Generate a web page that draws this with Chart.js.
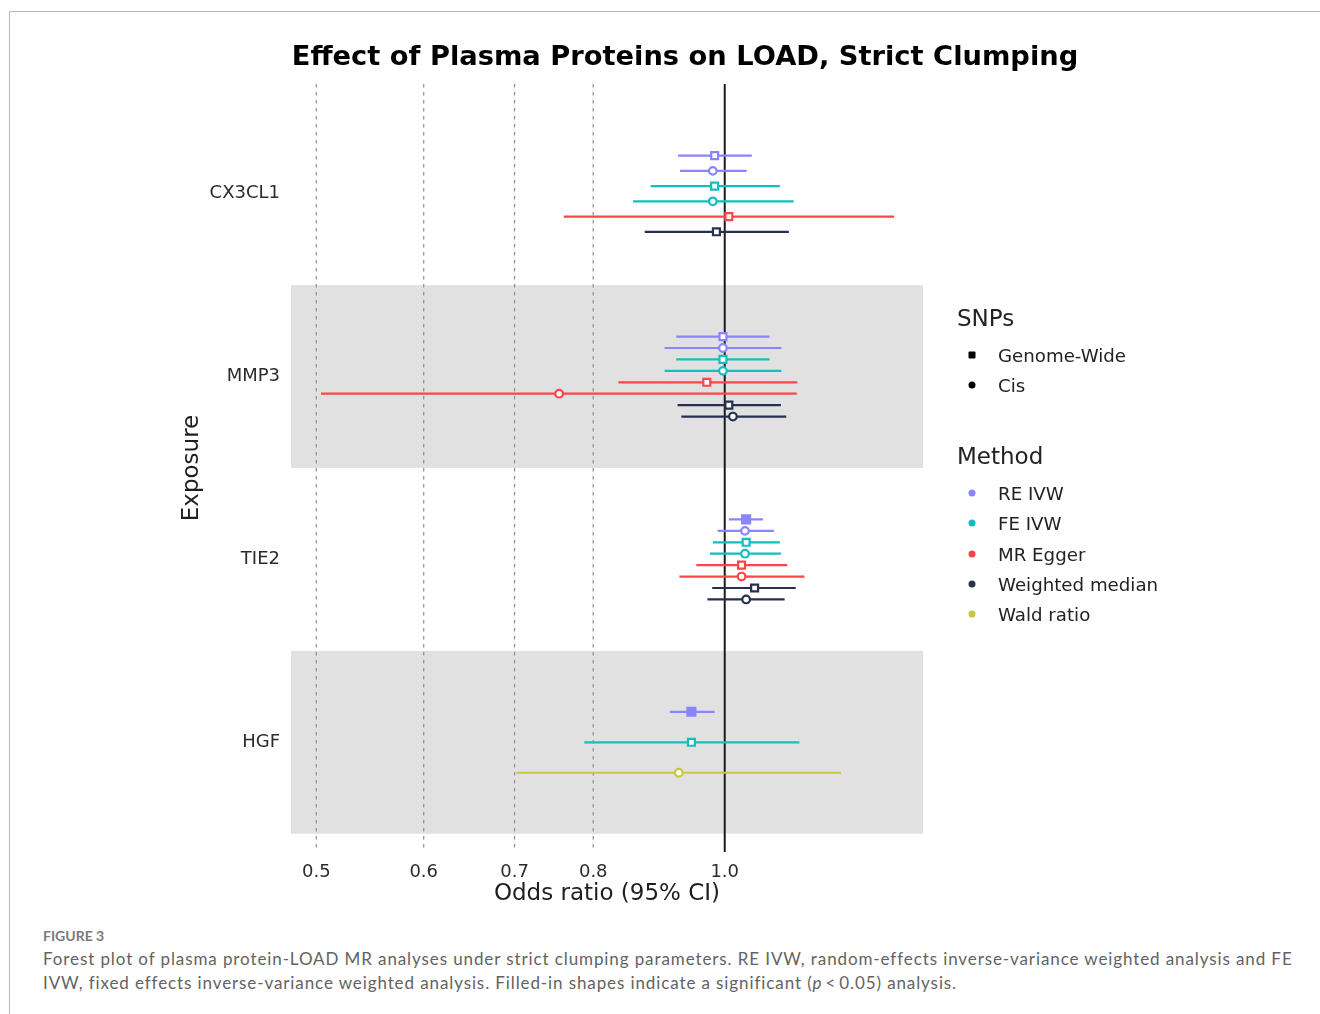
<!DOCTYPE html>
<html>
<head>
<meta charset="utf-8">
<script src="https://cdn.jsdelivr.net/npm/chart.js@4.4.1/dist/chart.umd.min.js"></script>
<style>
  html, body { margin: 0; padding: 0; background: #fff; width: 1320px; height: 1014px; overflow: hidden; }
  #frame { position: absolute; left: 9px; top: 11px; width: 1330px; height: 1020px;
           border-left: 1px solid #b9b9b9; border-top: 1px solid #b9b9b9; }
  #chart { position: absolute; left: 0; top: 0; }
  #title { position: absolute; left: 235px; width: 900px; top: 40px; height: 32px; line-height: 32px;
           text-align: center; font: bold 27.3px "DejaVu Sans", sans-serif; color: #000; white-space: nowrap; }
  .lg { position: absolute; transform: translateY(-50%); font-family: "DejaVu Sans", sans-serif; color: #222; white-space: nowrap; }
  .lgHead { font-size: 23px; }
  .lgItem { font-size: 18.2px; }
  .mk { position: absolute; transform: translate(-50%, -50%); }
  #figlabel { position: absolute; left: 43px; top: 935px; transform: translateY(-50%);
              font: bold 14px "Lato", sans-serif; color: #7a7a7a; letter-spacing: 0px; }
  .cap { position: absolute; left: 43px; transform: translateY(-50%); font: 17px "Lato", sans-serif;
         color: #636363; white-space: nowrap; }
</style>
</head>
<body>
<div id="frame"></div>
<canvas id="chart" width="1320" height="915"></canvas>
<div id="title">Effect of Plasma Proteins on LOAD, Strict Clumping</div>
<div id="legend"></div>
<div id="figlabel">FIGURE 3</div>
<div class="cap" id="cap1" style="top:958px">Forest plot of plasma protein-LOAD MR analyses under strict clumping parameters. RE IVW, random-effects inverse-variance weighted analysis and FE</div>
<div class="cap" id="cap2" style="top:982px">IVW, fixed effects inverse-variance weighted analysis. Filled-in shapes indicate a significant (<i>p</i>&#8201;&lt;&#8201;0.05) analysis.</div>
<script>
// ---------------- data ----------------
const categories = ['CX3CL1', 'MMP3', 'TIE2', 'HGF'];
const methods = ['RE IVW', 'FE IVW', 'MR Egger', 'Weighted median', 'Wald ratio'];
const methodColors = ['#8b84ff', '#14bebe', '#ff444b', '#28304e', '#c8c83a'];
const snpTypes = ['Genome-Wide', 'Cis'];
const xTicks = [0.5, 0.6, 0.7, 0.8, 1.0];
const nullValue = 1.0;

const rowExposure = [
  'CX3CL1', 'CX3CL1', 'CX3CL1', 'CX3CL1', 'CX3CL1', 'CX3CL1',
  'MMP3', 'MMP3', 'MMP3', 'MMP3', 'MMP3', 'MMP3', 'MMP3', 'MMP3',
  'TIE2', 'TIE2', 'TIE2', 'TIE2', 'TIE2', 'TIE2', 'TIE2', 'TIE2',
  'HGF', 'HGF', 'HGF'
];
const rowMethod = [
  'RE IVW', 'RE IVW', 'FE IVW', 'FE IVW', 'MR Egger', 'Weighted median',
  'RE IVW', 'RE IVW', 'FE IVW', 'FE IVW', 'MR Egger', 'MR Egger', 'Weighted median', 'Weighted median',
  'RE IVW', 'RE IVW', 'FE IVW', 'FE IVW', 'MR Egger', 'MR Egger', 'Weighted median', 'Weighted median',
  'RE IVW', 'FE IVW', 'Wald ratio'
];
const rowSnp = [
  'Genome-Wide', 'Cis', 'Genome-Wide', 'Cis', 'Genome-Wide', 'Genome-Wide',
  'Genome-Wide', 'Cis', 'Genome-Wide', 'Cis', 'Genome-Wide', 'Cis', 'Genome-Wide', 'Cis',
  'Genome-Wide', 'Cis', 'Genome-Wide', 'Cis', 'Genome-Wide', 'Cis', 'Genome-Wide', 'Cis',
  'Genome-Wide', 'Genome-Wide', 'Cis'
];
const rowOR = [
  0.983, 0.980, 0.983, 0.980, 1.007, 0.986,
  0.997, 0.997, 0.997, 0.997, 0.970, 0.755, 1.007, 1.014,
  1.037, 1.035, 1.037, 1.035, 1.029, 1.029, 1.052, 1.037,
  0.945, 0.945, 0.925
];
const rowLower = [
  0.924, 0.927, 0.882, 0.856, 0.761, 0.873,
  0.921, 0.903, 0.921, 0.903, 0.835, 0.504, 0.923, 0.929,
  1.007, 0.988, 0.980, 0.975, 0.953, 0.926, 0.979, 0.971,
  0.911, 0.788, 0.702
];
const rowUpper = [
  1.047, 1.038, 1.098, 1.124, 1.333, 1.115,
  1.079, 1.101, 1.079, 1.101, 1.131, 1.130, 1.100, 1.110,
  1.067, 1.087, 1.098, 1.100, 1.112, 1.145, 1.128, 1.107,
  0.983, 1.135, 1.218
];
const rowSignificant = [
  false, false, false, false, false, false,
  false, false, false, false, false, false, false, false,
  true, false, false, false, false, false, false, false,
  true, false, false
];

// ---------------- layout helpers (dodge within each exposure) ----------------
const dodgeWidth = 0.5;
const yMin = -0.6, yMax = 3.6;
const rowY = rowExposure.map((e, i) => {
  const members = rowExposure.map((_, k) => k).filter(k => rowExposure[k] === e);
  const j = members.indexOf(i), n = members.length;
  return categories.indexOf(e) + (j - (n - 1) / 2) * (dodgeWidth / n);
});

// reference lines
const refSets = xTicks.map(t => ({
  data: [{ x: t, y: yMin }, { x: t, y: yMax }],
  showLine: true,
  borderColor: t === nullValue ? '#1c1c1c' : '#8c8c8c',
  borderWidth: t === nullValue ? 2 : 1.2,
  borderDash: t === nullValue ? [] : [3.5, 4.5],
  pointRadius: 0,
  order: 3
}));

// confidence interval segments
const ciSets = methods.map((m, mi) => {
  const data = [];
  rowMethod.forEach((rm, i) => {
    if (rm !== m) return;
    data.push({ x: rowLower[i], y: rowY[i] }, { x: rowUpper[i], y: rowY[i] }, { x: rowUpper[i], y: null });
  });
  return { data, showLine: true, spanGaps: false, borderColor: methodColors[mi], borderWidth: 2.2,
           pointRadius: 0, order: 2 };
});

// point estimates
const ptSets = methods.map((m, mi) => {
  const idx = rowMethod.map((_, i) => i).filter(i => rowMethod[i] === m);
  return {
    data: idx.map(i => ({ x: rowOR[i], y: rowY[i] })),
    showLine: false,
    pointStyle: idx.map(i => rowSnp[i] === snpTypes[0] ? 'rect' : 'circle'),
    pointRadius: idx.map(i => rowSnp[i] === snpTypes[0] ? (rowSignificant[i] ? 5.6 : 4.9) : 3.8),
    pointBackgroundColor: idx.map(i => rowSignificant[i] ? methodColors[mi] : '#ffffff'),
    pointBorderColor: methodColors[mi],
    pointBorderWidth: 2.2,
    order: 0
  };
});

const bandPlugin = {
  id: 'bands',
  beforeDatasetsDraw(chart) {
    const { ctx, chartArea: a, scales: { y } } = chart;
    ctx.save();
    ctx.fillStyle = '#e1e1e1';
    categories.forEach((c, i) => {
      if (i % 2 !== 1) return;
      const t = y.getPixelForValue(i - 0.5), b = y.getPixelForValue(i + 0.5);
      ctx.fillRect(a.left, Math.min(t, b), a.right - a.left, Math.abs(b - t));
    });
    ctx.restore();
  }
};

const tickFont = { family: 'DejaVu Sans', size: 18 };

new Chart(document.getElementById('chart'), {
  type: 'scatter',
  data: { datasets: [...ptSets, ...ciSets, ...refSets] },
  options: {
    responsive: false,
    animation: false,
    devicePixelRatio: 1,
    layout: { padding: { left: 170, right: 397, top: 84, bottom: 3 } },
    plugins: { legend: { display: false }, tooltip: { enabled: false }, title: { display: false } },
    scales: {
      x: {
        type: 'logarithmic',
        position: 'bottom',
        min: 0.479, max: 1.40,
        bounds: 'data',
        grid: { display: false, drawTicks: false },
        border: { display: false },
        afterBuildTicks: (s) => { s.ticks = xTicks.map(v => ({ value: v })); },
        afterFit: (s) => { s.height = 60; },
        ticks: { font: tickFont, color: '#2b2b2b', padding: 10, maxRotation: 0, autoSkip: false,
                 callback: (v) => Number(v).toFixed(1) },
        title: { display: true, text: 'Odds ratio (95% CI)', color: '#1e1e1e',
                 font: { family: 'DejaVu Sans', size: 23 }, padding: { top: 0, bottom: 4 } }
      },
      y: {
        type: 'linear',
        position: 'left',
        min: yMin, max: yMax,
        reverse: true,
        bounds: 'data',
        grid: { display: false, drawTicks: false },
        border: { display: false },
        afterBuildTicks: (s) => { s.ticks = categories.map((_, i) => ({ value: i })); },
        afterFit: (s) => { s.width = 121; },
        ticks: { font: tickFont, color: '#2b2b2b', padding: 11, autoSkip: false,
                 callback: (v) => categories[v] },
        title: { display: true, text: 'Exposure', color: '#1e1e1e',
                 font: { family: 'DejaVu Sans', size: 23 }, padding: { top: 8, bottom: 0 } }
      }
    }
  },
  plugins: [bandPlugin]
});

// ---------------- legend (HTML text) ----------------
const legend = document.getElementById('legend');
function addText(cls, text, x, y) {
  const d = document.createElement('div');
  d.className = 'lg ' + cls; d.textContent = text;
  d.style.left = x + 'px'; d.style.top = y + 'px';
  legend.appendChild(d);
}
function addMarker(x, y, size, color, round) {
  const d = document.createElement('div');
  d.className = 'mk';
  d.style.left = x + 'px'; d.style.top = y + 'px';
  d.style.width = size + 'px'; d.style.height = size + 'px';
  d.style.background = color; d.style.borderRadius = round ? '50%' : '1px';
  legend.appendChild(d);
}
addText('lgHead', 'SNPs', 957, 318);
snpTypes.forEach((s, i) => {
  const y = 355 + i * 30.3;
  addMarker(972, y, 7, '#000', i !== 0);
  addText('lgItem', s, 998, y);
});
addText('lgHead', 'Method', 957, 456);
methods.forEach((m, i) => {
  const y = 493 + i * 30.3;
  addMarker(972, y, 7, methodColors[i], true);
  addText('lgItem', m, 998, y);
});

// fit caption line width
(function () {
  const c1 = document.getElementById('cap1'), c2 = document.getElementById('cap2');
  const target = 1249;
  const w = c1.getBoundingClientRect().width;
  const n = c1.textContent.length;
  const ls = (target - w) / n;
  c1.style.letterSpacing = ls + 'px';
  c2.style.letterSpacing = ls + 'px';
})();
</script>
</body>
</html>
